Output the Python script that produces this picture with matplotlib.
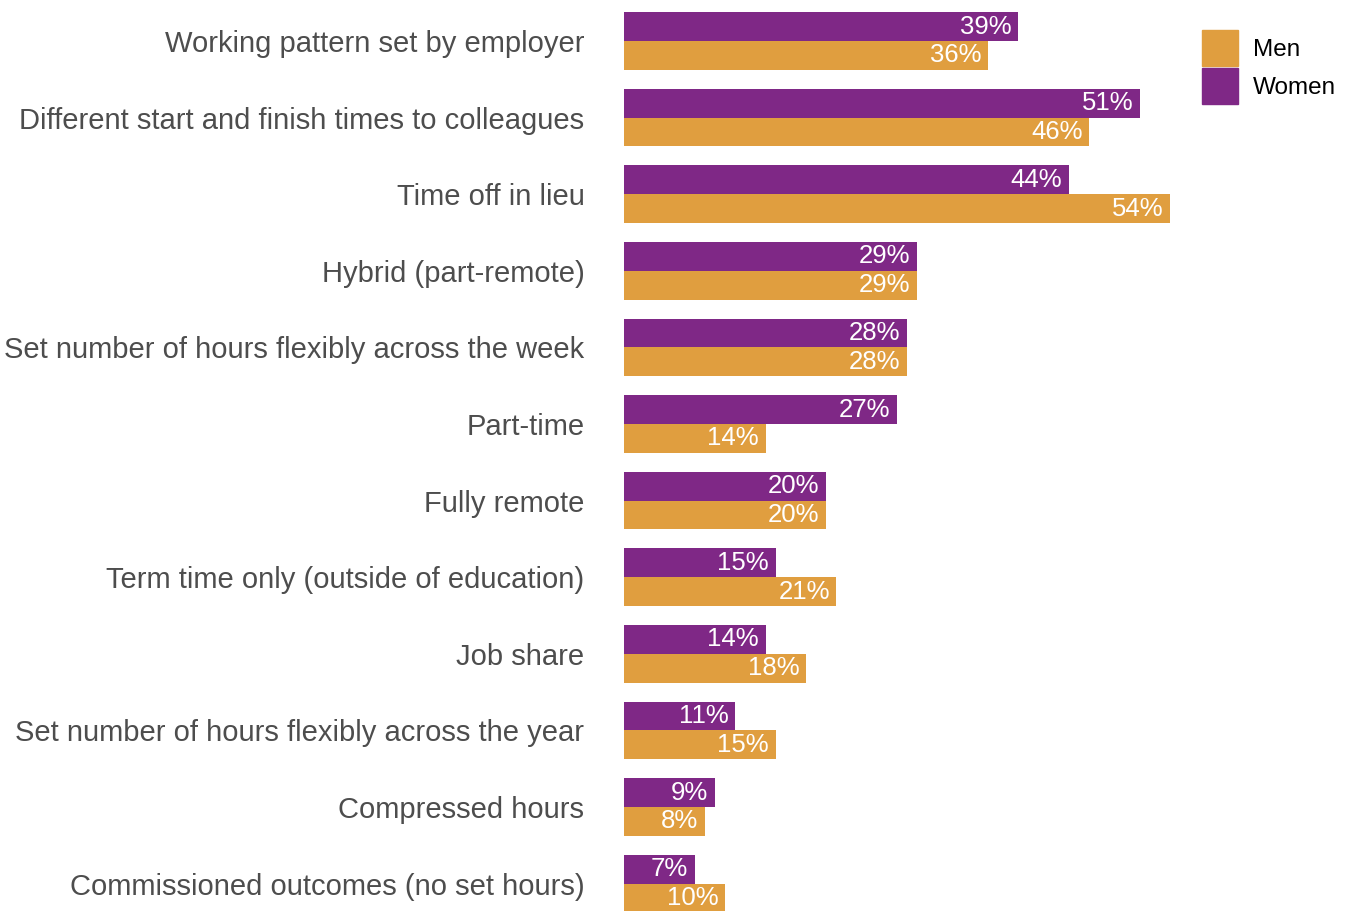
import matplotlib.pyplot as plt
import matplotlib.patches as mpatches
import numpy as np

plt.rcParams["font.family"] = ["Liberation Sans", "DejaVu Sans"]

categories = [
    "Working pattern set by employer",
    "Different start and finish times to colleagues",
    "Time off in lieu",
    "Hybrid (part-remote)",
    "Set number of hours flexibly across the week",
    "Part-time",
    "Fully remote",
    "Term time only (outside of education)",
    "Job share",
    "Set number of hours flexibly across the year",
    "Compressed hours",
    "Commissioned outcomes (no set hours)",
]
women = [39, 51, 44, 29, 28, 27, 20, 15, 14, 11, 9, 7]
men = [36, 46, 54, 29, 28, 14, 20, 21, 18, 15, 8, 10]

purple = "#7F2886"
orange = "#E09E3F"
grey_text = "#4D4D4D"

W, H = 1352, 911
fig = plt.figure(figsize=(W / 100, H / 100), dpi=100)
# axes placed in pixel terms: zero line at x=624, full height
ax = fig.add_axes([624 / W, 0, 1 - 624 / W, 1])

y = np.arange(len(categories))
bh = 0.375

ax.barh(y - bh / 2, women, height=bh, color=purple, label="Women")
ax.barh(y + bh / 2, men, height=bh, color=orange, label="Men")

for yi, w, m in zip(y, women, men):
    ax.text(w - 0.65, yi - bh / 2, f"{w}%", ha="right", va="center",
            color="white", fontsize=18.5)
    ax.text(m - 0.65, yi + bh / 2, f"{m}%", ha="right", va="center",
            color="white", fontsize=18.5)

ax.set_xlim(0, (W - 624) / 10.111)
ax.set_ylim(11.358, -0.535)
ax.set_yticks(y)
ax.set_yticklabels(categories, fontsize=21, color=grey_text)
ax.tick_params(axis="y", length=0, pad=28.5)
ax.set_xticks([])
for s in ax.spines.values():
    s.set_visible(False)

handles = [mpatches.Patch(color=orange, label="Men"),
           mpatches.Patch(color=purple, label="Women")]
fig.legend(handles=handles, loc="upper left",
           bbox_to_anchor=(1202 / W, 1 - 30 / H), frameon=False,
           fontsize=17.5, handlelength=1.48, handleheight=1.9,
           labelspacing=0.1, handletextpad=0.6, borderpad=0, borderaxespad=0)

fig.savefig("out.png", dpi=100)
